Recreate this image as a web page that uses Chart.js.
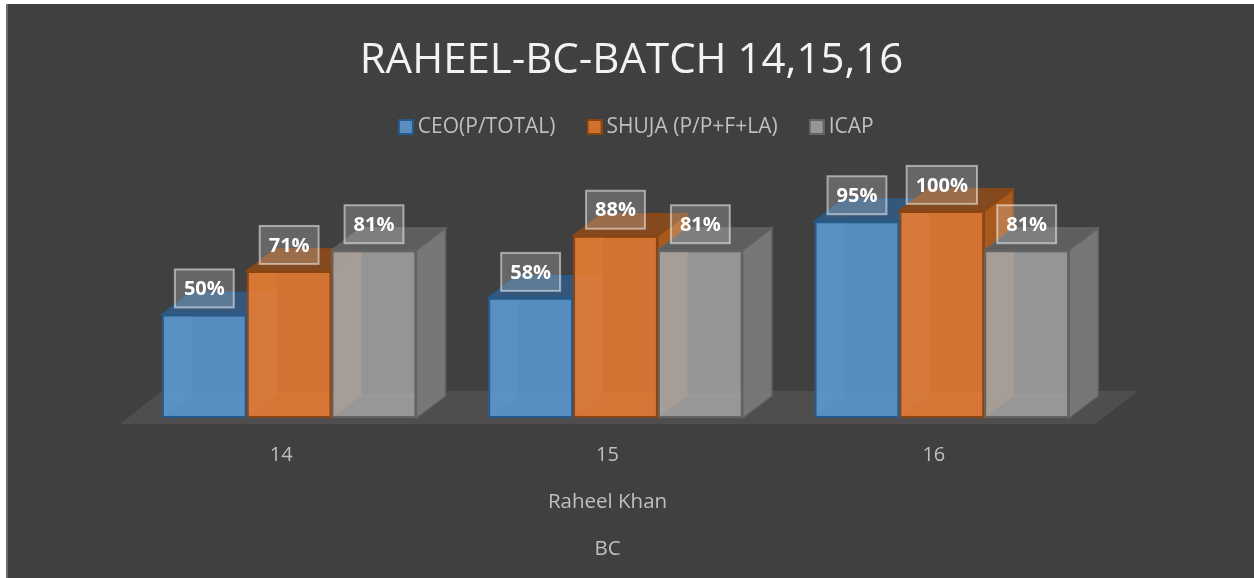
<!DOCTYPE html>
<html><head><meta charset="utf-8">
<script src="https://cdn.jsdelivr.net/npm/chart.js@4"></script>
<style>
html,body{margin:0;padding:0;background:#fff;overflow:hidden}
#wrap{position:absolute;left:6px;top:4px;width:1246px;height:574px;border-left:2px solid #6e6e6e;background:#404040}
canvas{display:block}
</style></head><body>
<div id="wrap"><canvas id="c" width="1246" height="574"></canvas></div>
<script>
const categories = ['14','15','16'];
const seriesNames = ['CEO(P/TOTAL)','SHUJA (P/P+F+LA)','ICAP'];
const ceo = [0.50,0.58,0.95];
const shuja = [0.71,0.88,1.00];
const icap = [0.81,0.81,0.81];
const chartTitle = 'RAHEEL-BC-BATCH 14,15,16';
const axisLines = ['Raheel Khan','BC'];

const FONT = '"Open Sans","Noto Sans",sans-serif';
const fronts = ['rgba(91,155,213,.85)','rgba(237,125,49,.85)','rgba(165,165,165,.85)'];
const solidFronts = ['#5a8dc2','#d2702e','#969696'];
const borders = ['#255a8c','#8a4612','#636363'];
const tops = ['#34587c','#84491f','#5e5e5e'];
const sides = ['#34587c','#a85a1e','#777777'];
const inner = ['rgba(120,175,230,.18)','rgba(250,150,70,.18)','rgba(190,175,170,.3)'];
const DX = 29, DY = -22;

function swatch(i){
  const s=document.createElement('canvas');s.width=16;s.height=16;
  const g=s.getContext('2d');
  g.fillStyle=borders[i];g.fillRect(0,0,16,16);
  g.fillStyle=solidFronts[i];g.fillRect(2,2,12,12);
  return s;
}
function poly(ctx, pts, fill, stroke){
  ctx.beginPath();
  pts.forEach((p,i)=> i?ctx.lineTo(p[0],p[1]):ctx.moveTo(p[0],p[1]));
  ctx.closePath();
  if(fill){ctx.fillStyle=fill;ctx.fill();}
  if(stroke){ctx.strokeStyle=stroke;ctx.lineWidth=1.5;ctx.stroke();}
}
const depth3d = {
  id:'depth3d',
  afterLayout(chart){
    const L=chart.legend, T=chart.titleBlock;
    L.left+=23.5; L.right+=23.5;
    T.left+=16; T.right+=16; T.top+=3; T.bottom+=3;
  },
  beforeDatasetsDraw(chart){
    const ctx=chart.ctx, a=chart.chartArea, by=chart.scales.y.getPixelForValue(0);
    ctx.save();
    poly(ctx,[[a.left-6,by+6],[a.right-10,by+6],[a.right+33,by-27],[a.left+36,by-27]],'#4f4d4d');
    chart.data.datasets.forEach((ds,i)=>{
      chart.getDatasetMeta(i).data.forEach(el=>{
        const l=el.x-el.width/2, r=el.x+el.width/2, t=el.y, b=el.base;
        poly(ctx,[[l+DX,t+DY],[r+DX,t+DY],[r+DX,b+DY],[l+DX,b+DY]],null,inner[i]);
        poly(ctx,[[l,b],[l+DX,b+DY],[l+DX,t+DY],[l,t]],inner[i]);
        poly(ctx,[[r,t],[r+DX,t+DY],[r+DX,b+DY],[r,b]],sides[i],borders[i]);
        poly(ctx,[[l,t],[l+DX,t+DY],[r+DX,t+DY],[r,t]],tops[i],borders[i]);
      });
    });
    ctx.restore();
  },
  afterDatasetsDraw(chart){
    const ctx=chart.ctx;
    ctx.save();
    ctx.font='700 20px '+FONT;
    ctx.textAlign='center';ctx.textBaseline='middle';
    chart.data.datasets.forEach((ds,i)=>{
      chart.getDatasetMeta(i).data.forEach((el,j)=>{
        const txt=Math.round(ds.data[j]*100)+'%';
        const w=ctx.measureText(txt).width+18, h=38, cy=el.y-26;
        ctx.fillStyle='rgba(255,255,255,.2)';
        ctx.fillRect(el.x-w/2,cy-h/2,w,h);
        ctx.strokeStyle='rgba(255,255,255,.5)';ctx.lineWidth=2;
        ctx.strokeRect(el.x-w/2,cy-h/2,w,h);
        ctx.fillStyle='#fff';
        ctx.fillText(txt,el.x,cy+1);
      });
    });
    ctx.restore();
  },
  afterDraw(chart){
    const ctx=chart.ctx, a=chart.chartArea;
    ctx.save();
    ctx.font='400 20.5px '+FONT;ctx.fillStyle='#bfbfbf';
    ctx.textAlign='center';ctx.textBaseline='middle';
    axisLines.forEach((t,k)=>ctx.fillText(t,(a.left+a.right)/2-8,a.bottom+84+47*k));
    ctx.restore();
  }
};
const values=[ceo,shuja,icap];
new Chart(document.getElementById('c'),{
  type:'bar',
  data:{labels:categories,datasets:seriesNames.map((n,i)=>({
    label:n,data:values[i],backgroundColor:fronts[i],borderColor:borders[i],borderWidth:2,borderSkipped:false,
    categoryPercentage:0.78,barPercentage:1
  }))},
  plugins:[depth3d],
  options:{
    responsive:false,animation:false,
    layout:{padding:{left:118,right:149,top:0,bottom:111}},
    scales:{
      y:{display:false,min:0,max:1.306},
      x:{
        grid:{display:false,drawTicks:true,tickLength:25},border:{display:false},
        ticks:{color:'#bfbfbf',font:{family:FONT,size:20},padding:0,maxRotation:0,labelOffset:-8}
      }
    },
    plugins:{
      tooltip:{enabled:false},
      title:{display:true,text:chartTitle,color:'#f2f2f2',font:{family:FONT,size:42,weight:'400',lineHeight:1},padding:{top:33,bottom:0}},
      legend:{display:true,position:'top',labels:{
        color:'#bfbfbf',font:{family:FONT,size:21},usePointStyle:true,boxHeight:14,pointStyleWidth:3,padding:37.5,
        generateLabels(chart){
          return Chart.defaults.plugins.legend.labels.generateLabels(chart).map((it,i)=>{it.pointStyle=swatch(i);return it;});
        }
      }}
    }
  }
});
</script></body></html>
